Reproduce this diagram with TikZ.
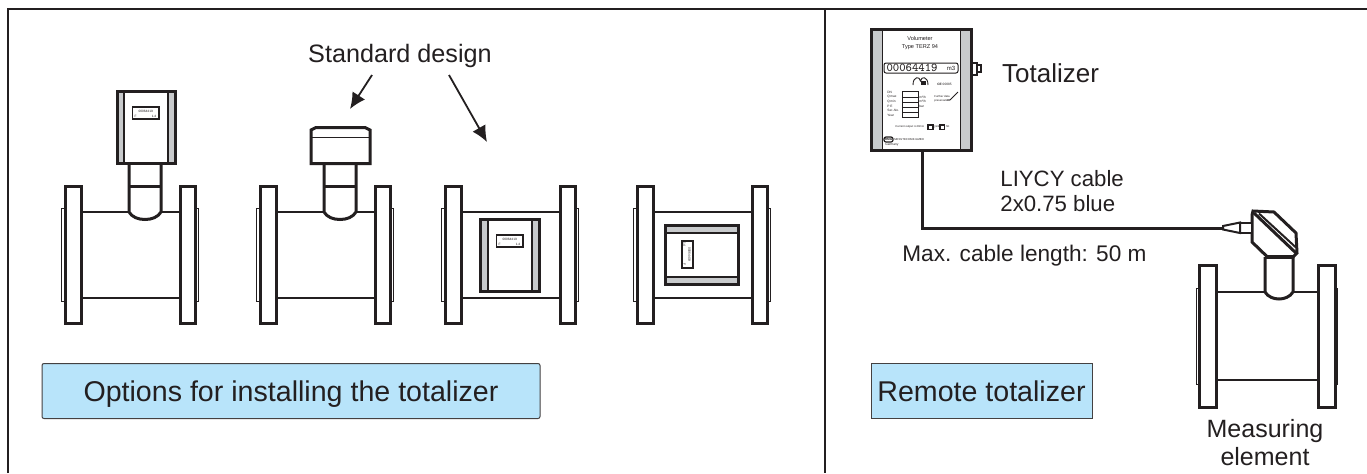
\documentclass[tikz,border=0pt]{standalone}
\usepackage{fontspec}
\setmainfont{Liberation Sans}
\usetikzlibrary{arrows.meta}
\definecolor{ink}{RGB}{35,31,32}
\definecolor{strip}{RGB}{200,202,204}
\definecolor{sky}{RGB}{184,228,250}
\tikzset{
  x=0.5pt,y=-0.5pt,
  thick line/.style={draw=ink,line width=1.5pt,line join=miter},
  mid line/.style={draw=ink,line width=1.0pt},
  thin line/.style={draw=ink,line width=0.45pt},
  frame line/.style={draw=ink,line width=0.6pt},
  label text/.style={font=\fontsize{12.6}{14}\selectfont,text=ink,inner sep=0pt,align=center},
  banner/.style={draw=ink!85,line width=0.5pt,fill=sky,inner sep=0pt,font=\fontsize{14.3}{16}\selectfont,text=ink,text height=13.2pt,text depth=2.8pt},
  tiny text/.style={font=\fontsize{1.6}{2}\selectfont,text=ink,inner sep=0pt,align=left},
  small text/.style={font=\fontsize{2.8}{3}\selectfont,text=ink,inner sep=0pt},
  arrow line/.style={draw=ink,line width=0.9pt,-{Latex[length=8pt,width=7.5pt]}},
}
\newcommand{\pipebody}[1]{%
\begin{scope}[shift={(#1,0)}]
  \draw[thin line,fill=white] (61.5,208) rectangle (68,301);
  \draw[thin line,fill=white] (192,208) rectangle (198.5,301);
  \draw[mid line] (81,212) -- (180,212);
  \draw[thin line,line width=0.7pt] (81,298) -- (180,298);
  \draw[thick line,fill=white] (65.5,186.5) rectangle (81,323);
  \draw[thick line,fill=white] (180,186.5) rectangle (195,323);
\end{scope}}
\newcommand{\neckpart}[1]{%
\begin{scope}[shift={(#1,0)}]
  \draw[thick line,fill=white] (129,164) -- (129,212) .. controls (132,217) and (138,219.5) .. (145,219.5) .. controls (152,219.5) and (158,217) .. (161,212) -- (161,164);
  \draw[thick line] (129,186) -- (161,186);
\end{scope}}
\begin{document}
\begin{tikzpicture}
\useasboundingbox (0,0) rectangle (1367,473);
\fill[white] (0,0) rectangle (1367,473);
% frame
\coordinate (fa) at (8,473); \coordinate (fb) at (8,9); \coordinate (fc) at (1367,9);
\coordinate (fe) at (825,9); \coordinate (ff) at (825,473);
\draw[frame line] (fa) -- (fb) -- (fc);
\draw[frame line] (fe) -- (ff);

% meter 1
\pipebody{0}
\neckpart{0}
\draw[thick line,fill=strip] (117,91) rectangle (175,163);
\draw[mid line,line width=0.7pt,fill=white] (124,91) rectangle (168,163);
\draw[thick line] (117,91) rectangle (175,163);
\draw[mid line,line width=0.7pt,fill=white] (132.5,107) rectangle (159,119);
\node[tiny text] (d1a) at (145.7,111) {00064419};
\node[tiny text] (d1b) at (135.5,116) {F};
\node[tiny text] (d1c) at (154,116) {1.4};

% meter 2
\pipebody{195}
\neckpart{195}
\draw[thick line,fill=white] (311,163.5) -- (311,130) -- (316,127.5) -- (365,127.5) -- (370,130) -- (370,163.5) -- cycle;
\draw[thin line,line width=0.6pt] (311,137.5) -- (370,137.5);

% meter 3
\pipebody{380}
\draw[thick line,fill=strip] (480,219) rectangle (539,291);
\draw[mid line,line width=0.7pt,fill=white] (488,219) rectangle (532,291);
\draw[thick line] (480,219) rectangle (539,291);
\draw[mid line,line width=0.7pt,fill=white] (496.5,235) rectangle (523,247);
\node[tiny text] (d3a) at (509.7,239) {00064419};
\node[tiny text] (d3b) at (499.5,244) {F};
\node[tiny text] (d3c) at (518,244) {1.4};

% meter 4
\pipebody{572}
\draw[thick line,fill=strip] (665.5,225) rectangle (738,284);
\draw[mid line,line width=0.7pt,fill=white] (665.5,233) rectangle (738,277);
\draw[thick line] (665.5,225) rectangle (738,284);
\draw[mid line,line width=0.7pt,fill=white] (682,241) rectangle (693,268);
\node[tiny text,rotate=-90] (d4a) at (689.5,254.5) {00064419};
\node[tiny text,rotate=-90] (d4b) at (684.5,244.5) {1.4};
\node[tiny text,rotate=-90] (d4c) at (684.5,264) {F};

% annotation
\node[label text] (std) at (400,56) {Standard design};
\coordinate (a1s) at (372,75); \coordinate (a1e) at (350,109);
\coordinate (a2s) at (449,75); \coordinate (a2e) at (487,142);
\draw[arrow line] (a1s) -- (a1e);
\draw[arrow line] (a2s) -- (a2e);

% banners
\node[banner,rounded corners=1pt,minimum width=249pt,minimum height=27.5pt] (opt) at (291,391) {Options for installing the totalizer};
\node[banner,minimum width=110.5pt,minimum height=27.5pt] (rem) at (981.5,391) {Remote totalizer};

% remote totalizer device
\draw[thick line,line width=1pt,fill=white] (971,63) rectangle (977,75);
\draw[thick line,line width=1pt,fill=white] (977,65) rectangle (981,72);
\draw[thick line,fill=strip] (871,29) rectangle (971,150);
\draw[thin line,fill=white] (882,29) rectangle (960,150);
\draw[thick line] (871,29) rectangle (971,150);
\node[small text] (vol) at (920,38) {Volumeter};
\node[small text] (typ) at (920,47) {Type TERZ 94};
\draw[mid line,line width=0.5pt,fill=white,rounded corners=1pt] (884,63) rectangle (958,73);
\node[font=\ttfamily\fontsize{6}{6}\selectfont,text=ink,inner sep=0pt] (cnt) at (912,68) {00064419};
\node[font=\fontsize{3}{3}\selectfont,text=ink,inner sep=0pt] (unit) at (951,68) {m3};
\draw[thin line] (913,85) .. controls (913,76) and (920,76) .. (920.5,81) .. controls (921,76) and (928,76) .. (928,85);
\fill[ink] (921,81) rectangle (926,85);
\foreach \yy in {91,97,102,107,112,117} {\draw[thin line,line width=0.45pt] (902,\yy) -- (918,\yy);}
\draw[thin line] (902,91) rectangle (918,117);
\node[tiny text,anchor=west] (t1) at (887,92) {DN};
\node[tiny text,anchor=west] (t2) at (887,97) {Q\,max};
\node[tiny text,anchor=west] (t3) at (887,101.5) {Q\,min};
\node[tiny text,anchor=west] (t4) at (887,106) {P E};
\node[tiny text,anchor=west] (t5) at (887,110.5) {Ser.-No.};
\node[tiny text,anchor=west] (t6) at (887,115) {Year};
\node[tiny text,anchor=west] (t7) at (919,97) {m³/h};
\node[tiny text,anchor=west] (t8) at (919,101.5) {m³/h};
\node[tiny text,anchor=west] (t9) at (919,106) {bar};
\node[tiny text,anchor=west] (cemark) at (937,84) {\textbf{CE} 00085};
\node[tiny text,anchor=west,font=\fontsize{1.4}{1.8}\selectfont] (fr) at (934,99) {Further data\\preservation};
\draw[thin line] (947,100) -- (950,100) -- (958,92);
\node[tiny text,anchor=west,font=\fontsize{1.4}{2}\selectfont] (cur) at (895,127) {Current output 4-20mA};
\draw[thin line,line width=0.6pt] (928,125) rectangle (933,129.5);
\node[tiny text,anchor=west] (yes) at (934,127) {yes};
\draw[thin line,line width=0.6pt] (940,125) rectangle (944.5,129.5);
\node[tiny text,anchor=west] (no) at (945.5,127) {no};
\draw[thin line,line width=0.6pt,rounded corners=1pt] (884,137) rectangle (893,142);
\node[font=\bfseries\fontsize{1.6}{2}\selectfont,text=ink,inner sep=0pt] (rmg) at (888.5,139.5) {RMG};
\node[tiny text,anchor=west,font=\fontsize{1.4}{2}\selectfont] (mk) at (894,140) {MESSTECHNIK GMBH};
\node[tiny text,anchor=west] (gm) at (885,145) {Germany};

% cable and remote measuring element
\coordinate (cs) at (922,150);
\coordinate (cc) at (922,228);
\coordinate (cx) at (1223,228);
\draw[thick line] (cs) -- (cc) -- (cx);

\draw[thin line,fill=white] (1196,288) rectangle (1203,384);
\draw[thin line,fill=white] (1330,288) rectangle (1337,384);
\draw[mid line] (1216,292) -- (1318,292);
\draw[thin line,line width=0.7pt] (1216,380) -- (1318,380);
\draw[thick line,fill=white] (1199.5,265) rectangle (1216,407);
\draw[thick line,fill=white] (1318.5,265) rectangle (1335,407);
\draw[thick line,fill=white] (1265,257) -- (1265,292) .. controls (1268,297) and (1274,299) .. (1279,299) .. controls (1284,299) and (1290,297) .. (1293,292) -- (1293,257);
\draw[thick line,fill=white] (1253,211) -- (1274,212) -- (1296,233) -- (1297,253) -- (1293,257) -- (1267,256.5) -- (1252,242) -- (1252,215) -- cycle;
\draw[thick line] (1254,213) -- (1296,253);
\draw[mid line] (1259,213.5) -- (1296,247.5);
\draw[thick line,line width=1.8pt] (1266,257) -- (1293,257);
\draw[thick line,line width=1pt,fill=white] (1240,222.5) rectangle (1252,233);
\draw[thick line,line width=1pt,fill=white] (1223,226) -- (1240,222.5) -- (1240,233) -- (1223,229.5) -- cycle;

% labels
\node[label text,font=\fontsize{13}{14}\selectfont] (tot) at (1050.5,73) {Totalizer};
\node[label text,font=\fontsize{11.1}{12.5}\selectfont,align=left,anchor=west] (cab) at (1000,191.5) {LIYCY cable\\2x0.75 blue};
\node[label text,font=\fontsize{11.3}{12.5}\selectfont,anchor=west] (max) at (902,256) {Max. cable length: 50 m};
\node[label text,font=\fontsize{12.5}{14}\selectfont] (mea) at (1265,443) {Measuring\\element};
\end{tikzpicture}
\end{document}
